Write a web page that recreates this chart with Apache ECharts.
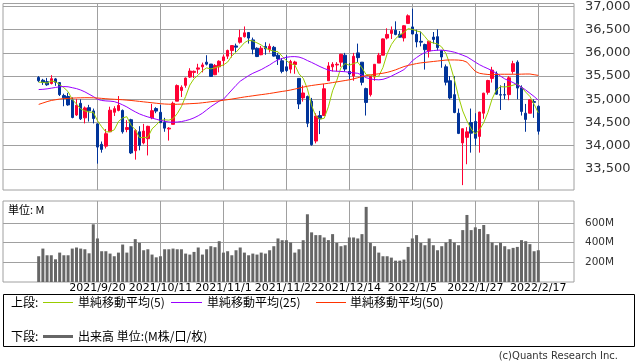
<!DOCTYPE html>
<html><head><meta charset="utf-8">
<script src="https://cdn.jsdelivr.net/npm/echarts@6/dist/echarts.min.js"></script>
<style>html,body{margin:0;padding:0;background:#fff}#c{width:638px;height:362px}</style>
</head><body><div id="c"></div>
<script>
const dates = ['2021/8/30','2021/8/31','2021/9/1','2021/9/2','2021/9/3','2021/9/7','2021/9/8','2021/9/9','2021/9/10','2021/9/13','2021/9/14','2021/9/15','2021/9/16','2021/9/17','2021/9/20','2021/9/21','2021/9/22','2021/9/23','2021/9/24','2021/9/27','2021/9/28','2021/9/29','2021/9/30','2021/10/1','2021/10/4','2021/10/5','2021/10/6','2021/10/7','2021/10/8','2021/10/11','2021/10/12','2021/10/13','2021/10/14','2021/10/15','2021/10/18','2021/10/19','2021/10/20','2021/10/21','2021/10/22','2021/10/25','2021/10/26','2021/10/27','2021/10/28','2021/10/29','2021/11/1','2021/11/2','2021/11/3','2021/11/4','2021/11/5','2021/11/8','2021/11/9','2021/11/10','2021/11/11','2021/11/12','2021/11/15','2021/11/16','2021/11/17','2021/11/18','2021/11/19','2021/11/22','2021/11/23','2021/11/24','2021/11/26','2021/11/29','2021/11/30','2021/12/1','2021/12/2','2021/12/3','2021/12/6','2021/12/7','2021/12/8','2021/12/9','2021/12/10','2021/12/13','2021/12/14','2021/12/15','2021/12/16','2021/12/17','2021/12/20','2021/12/21','2021/12/22','2021/12/23','2021/12/27','2021/12/28','2021/12/29','2021/12/30','2021/12/31','2022/1/3','2022/1/4','2022/1/5','2022/1/6','2022/1/7','2022/1/10','2022/1/11','2022/1/12','2022/1/13','2022/1/14','2022/1/18','2022/1/19','2022/1/20','2022/1/21','2022/1/24','2022/1/25','2022/1/26','2022/1/27','2022/1/28','2022/1/31','2022/2/1','2022/2/2','2022/2/3','2022/2/4','2022/2/7','2022/2/8','2022/2/9','2022/2/10','2022/2/11','2022/2/14','2022/2/15','2022/2/16','2022/2/17'];

const opens = [35470,35410,35380,35340,35440,35360,35080,35060,34985,34662,
  34913,34600,34820,34750,34471,34030,33990,34300,34720,34760,
  34760,34350,34560,33890,34300,34060,34150,34600,34800,34720,
  34500,34360,34460,34960,35190,35300,35480,35580,35650,35700,
  35800,35760,35530,35700,35833,35930,36050,36150,36230,36350,
  36440,36280,36100,35960,36140,36070,36120,35950,35830,35700,
  35650,35750,35450,35030,35060,34960,34100,34650,34650,35400,
  35700,35740,35800,35950,35600,35500,36000,35800,35230,35100,
  35480,35780,35950,36320,36420,36490,36400,36322,36636,36560,
  36400,36250,36180,36040,36340,36350,36050,35700,35400,35100,
  34700,34060,34180,34500,34520,34200,34700,35150,35450,35550,
  35100,35100,35100,35600,35800,35250,34700,34700,34950,34850];
const highs = [35500,35440,35460,35520,35460,35370,35120,35140,35040,35010,
  35000,34845,34880,34800,34471,34090,34360,34840,34850,35070,
  34780,34550,34580,34360,34420,34470,34430,34900,34830,34880,
  34600,34400,34950,35320,35300,35470,35670,35620,35765,35790,
  35950,35760,35760,35840,35960,36070,36160,36200,36500,36570,
  36440,36330,36120,36150,36230,36200,36150,36000,35890,35950,
  35850,35830,35450,35300,35080,35030,34700,34750,35330,35800,
  35800,35800,35980,36000,35780,36000,36200,35800,35250,35500,
  35760,36000,36310,36530,36570,36680,36470,36596,36830,36953,
  36500,36460,36200,36260,36450,36510,36050,35750,35500,35500,
  34800,34370,34400,34800,34700,34730,35140,35420,35700,35600,
  35300,35350,35500,35830,35840,35300,34900,35000,35000,34870];
const lows = [35370,35310,35290,35320,35290,35070,34850,34860,34590,34640,
  34554,34480,34520,34480,33613,33850,33940,34300,34640,34740,
  34260,34290,33820,33700,33900,34030,33790,34570,34700,34490,
  34300,34110,34460,34960,35050,35250,35460,35460,35550,35580,
  35730,35480,35520,35580,35720,35870,35900,36020,36200,36330,
  36200,35970,35910,35950,35960,36010,35920,35740,35560,35590,
  35560,35550,34790,34950,34400,34000,34050,34250,34650,35400,
  35600,35600,35700,35600,35430,35400,35800,35300,34650,35060,
  35400,35780,35950,36290,36300,36380,36330,36246,36636,36400,
  36120,36140,35640,35900,36200,36050,35680,35300,35000,34700,
  34250,33150,33600,33850,34000,33850,34580,35100,35360,35100,
  34770,35000,34980,35550,35000,34650,34300,34700,34600,34240];
const closes = [35400,35361,35313,35444,35369,35100,35031,34879,34608,34870,
  34578,34814,34751,34585,33970,33920,34258,34765,34798,34869,
  34300,34391,33844,34326,34003,34315,34417,34755,34746,34496,
  34378,34378,34913,35295,35259,35457,35609,35603,35677,35741,
  35757,35491,35730,35820,35914,36053,36158,36124,36328,36432,
  36320,36080,35921,36100,36087,36142,35931,35871,35602,35619,
  35814,35804,34899,35136,34484,34022,34640,34580,35227,35719,
  35754,35755,35971,35651,35544,35927,35898,35365,34932,35493,
  35754,35951,36302,36398,36489,36398,36338,36585,36800,36407,
  36236,36232,36069,36252,36290,36114,35912,35368,35029,34715,
  34265,34365,34298,34270,34161,34725,35132,35405,35629,35111,
  35090,35091,35463,35768,35242,34738,34566,34989,34934,34312];

const ma5 = [35368,35367,35349,35395,35377,35317,35251,35165,34997,34898,34793,34750,34724,34720,34540,34408,34297,34300,34342,34522,34598,34625,34440,34346,34173,34176,34181,34363,34447,34546,34558,34551,34582,34692,34845,35060,35307,35445,35521,35617,35677,35654,35679,35708,35742,35802,35935,36014,36115,36219,36272,36257,36216,36171,36102,36066,36036,36026,35927,35833,35767,35742,35548,35454,35227,34869,34636,34572,34591,34838,35184,35407,35685,35770,35735,35770,35798,35677,35533,35523,35488,35499,35686,35980,36179,36308,36385,36442,36522,36506,36473,36452,36349,36239,36216,36191,36127,35987,35743,35428,35058,34748,34534,34362,34251,34343,34497,34718,35010,35200,35273,35265,35277,35305,35331,35260,35155,35061,34894,34708];
const ma25 = [35210,35215,35225,35240,35255,35270,35275,35270,35250,35230,35200,35160,35110,35060,35000,34975,34965,34960,34950,34920,34880,34835,34780,34730,34685,34650,34620,34595,34570,34545,34525,34510,34505,34510,34520,34540,34565,34600,34645,34700,34770,34840,34900,34960,35000,35100,35200,35300,35390,35450,35510,35560,35600,35640,35690,35740,35800,35850,35880,35905,35918,35920,35910,35880,35835,35795,35750,35705,35665,35630,35610,35605,35600,35595,35580,35570,35560,35520,35465,35440,35425,35420,35430,35460,35500,35545,35590,35640,35730,35830,35900,35960,36010,36040,36050,36058,36060,36050,36035,36015,35985,35950,35915,35860,35800,35745,35700,35660,35615,35560,35500,35440,35400,35360,35310,35260,35200,35130,35060,34980];
const ma50 = [34890,34920,34950,34975,34990,35005,35015,35020,35025,35030,35032,35034,35034,35032,35028,35020,35012,35005,35000,34995,34990,34982,34975,34965,34955,34945,34935,34925,34915,34905,34898,34894,34892,34893,34896,34900,34905,34910,34915,34925,34935,34948,34958,34965,34980,34992,35005,35020,35035,35050,35062,35075,35088,35100,35112,35125,35140,35155,35170,35183,35200,35220,35240,35262,35282,35297,35310,35322,35333,35345,35360,35375,35390,35405,35420,35440,35465,35490,35510,35525,35538,35550,35562,35580,35605,35635,35670,35705,35730,35750,35770,35785,35795,35805,35815,35825,35835,35845,35848,35848,35845,35835,35800,35700,35600,35560,35545,35535,35530,35535,35540,35540,35540,35540,35540,35542,35545,35545,35530,35515];

const volumes = [262,340,272,272,231,299,272,272,340,351,340,333,292,587,443,313,313,289,262,299,381,299,364,436,398,323,333,279,251,262,333,333,340,333,333,289,279,306,351,279,333,364,354,415,299,313,272,323,351,299,272,289,279,299,289,323,364,443,425,425,402,299,333,425,689,505,477,477,453,426,487,398,364,374,453,453,443,487,764,398,364,299,262,262,248,217,217,228,357,443,477,398,374,443,374,323,364,402,436,402,374,528,682,528,556,539,580,487,402,374,398,364,333,347,357,426,415,385,313,323];

const tickLabels = ['2021/9/20','2021/10/11','2021/11/1','2021/11/22','2021/12/14','2022/1/5','2022/1/27','2022/2/17'];
const priceTicks = [33500,34000,34500,35000,35500,36000,36500,37000];
const volumeTicks = [200,400,600];

// layout: empty category slots either side of the data
const PAD_L = 8, PAD_R = 8;
const cats = [];
for (let i = 0; i < PAD_L; i++) cats.push('pl' + i);
dates.forEach(d => cats.push(d));
for (let i = 0; i < PAD_R; i++) cats.push('pr' + i);

const candleData = dates.map((d, i) => [d, opens[i], closes[i], lows[i], highs[i]]);
const pair = arr => dates.map((d, i) => [d, arr[i]]);
const isTick = (idx, val) => tickLabels.indexOf(val) >= 0;

const GRID = '#a0a0a0';
const FONT = 'DejaVu Sans';
const CJK = '"Noto Sans CJK JP"';

const chart = echarts.init(document.getElementById('c'), null, {renderer: 'canvas'});
chart.setOption({
  animation: false,
  backgroundColor: '#fff',
  grid: [
    {left: 3, top: 1, width: 571, height: 189, show: true, borderColor: GRID, borderWidth: 1, containLabel: false},
    {left: 3, top: 201, width: 571, height: 81, show: true, borderColor: GRID, borderWidth: 1, containLabel: false}
  ],
  xAxis: [
    {type: 'category', gridIndex: 0, data: cats, boundaryGap: true,
     axisLine: {show: false}, axisTick: {show: false}, axisLabel: {show: false},
     splitLine: {show: true, interval: isTick, alignWithLabel: true, lineStyle: {color: GRID, width: 1}}},
    {type: 'category', gridIndex: 1, data: cats, boundaryGap: true,
     axisLine: {show: false}, axisTick: {show: false},
     axisLabel: {show: true, interval: isTick, margin: 1, fontSize: 11, fontFamily: FONT, color: '#000'},
     splitLine: {show: true, interval: isTick, alignWithLabel: true, lineStyle: {color: GRID, width: 1}}}
  ],
  yAxis: [
    {type: 'value', gridIndex: 0, position: 'right', min: 33045, max: 37064, scale: true,
     axisLine: {show: false}, axisTick: {show: false, customValues: priceTicks},
     axisLabel: {customValues: priceTicks, margin: 11, fontSize: 13, fontFamily: FONT, color: '#333',
       formatter: v => String(Math.round(v)).replace(/\B(?=(\d{3})+(?!\d))/g, ',')},
     splitLine: {show: true, lineStyle: {color: GRID, width: 1}}},
    {type: 'value', gridIndex: 1, position: 'right', min: 0, max: 824,
     axisLine: {show: false}, axisTick: {show: false, customValues: volumeTicks},
     axisLabel: {customValues: volumeTicks, margin: 11, fontSize: 10.5, fontFamily: FONT, color: '#333',
       formatter: v => Math.round(v) + 'M'},
     splitLine: {show: true, lineStyle: {color: GRID, width: 1}}}
  ],
  series: [
    {type: 'candlestick', xAxisIndex: 0, yAxisIndex: 0, data: candleData,
     encode: {x: 0, y: [1, 2, 3, 4]}, barWidth: 3, z: 2,
     itemStyle: {color: '#ff0033', color0: '#003399', borderColor: '#ff0033', borderColor0: '#003399', borderWidth: 1}},
    {type: 'line', xAxisIndex: 0, yAxisIndex: 0, data: pair(ma5), showSymbol: false, symbol: 'none', z: 4,
     lineStyle: {color: '#99cc00', width: 1}},
    {type: 'line', xAxisIndex: 0, yAxisIndex: 0, data: pair(ma25), showSymbol: false, symbol: 'none', z: 4,
     lineStyle: {color: '#9900ff', width: 1}},
    {type: 'line', xAxisIndex: 0, yAxisIndex: 0, data: pair(ma50), showSymbol: false, symbol: 'none', z: 4,
     lineStyle: {color: '#ff3300', width: 1}},
    {type: 'bar', xAxisIndex: 1, yAxisIndex: 1, data: pair(volumes), barWidth: 3,
     itemStyle: {color: '#666666'}}
  ],
  graphic: [
    {type: 'text', left: 8, top: 204, style: {text: '単位: M', font: '11px ' + CJK, fill: '#000'}},
    {type: 'rect', shape: {x: 3.5, y: 294.5, width: 631, height: 52}, style: {fill: 'none', stroke: '#000', lineWidth: 1}},
    {type: 'text', x: 11, y: 302.5, style: {text: '上段:', font: '12px ' + CJK, fill: '#000', verticalAlign: 'middle'}},
    {type: 'line', shape: {x1: 43, y1: 302.5, x2: 73, y2: 302.5}, style: {stroke: '#99cc00', lineWidth: 1}},
    {type: 'text', x: 78, y: 302.5, style: {text: '単純移動平均(5)', font: '12px ' + CJK, fill: '#000', verticalAlign: 'middle'}},
    {type: 'line', shape: {x1: 171, y1: 302.5, x2: 202, y2: 302.5}, style: {stroke: '#9900ff', lineWidth: 1}},
    {type: 'text', x: 207, y: 302.5, style: {text: '単純移動平均(25)', font: '12px ' + CJK, fill: '#000', verticalAlign: 'middle'}},
    {type: 'line', shape: {x1: 316, y1: 302.5, x2: 346, y2: 302.5}, style: {stroke: '#ff3300', lineWidth: 1}},
    {type: 'text', x: 350, y: 302.5, style: {text: '単純移動平均(50)', font: '12px ' + CJK, fill: '#000', verticalAlign: 'middle'}},
    {type: 'text', x: 11, y: 336, style: {text: '下段:', font: '12px ' + CJK, fill: '#000', verticalAlign: 'middle'}},
    {type: 'line', shape: {x1: 43, y1: 336.5, x2: 73, y2: 336.5}, style: {stroke: '#666666', lineWidth: 3}},
    {type: 'text', x: 78, y: 336, style: {text: '出来高 単位:(M株/口/枚)', font: '12px ' + CJK, fill: '#000', verticalAlign: 'middle'}},
    {type: 'text', x: 618, y: 356, style: {text: '(c)Quants Research Inc.', font: '10px ' + FONT, fill: '#333', align: 'right', verticalAlign: 'middle'}}
  ]
});
</script></body></html>
